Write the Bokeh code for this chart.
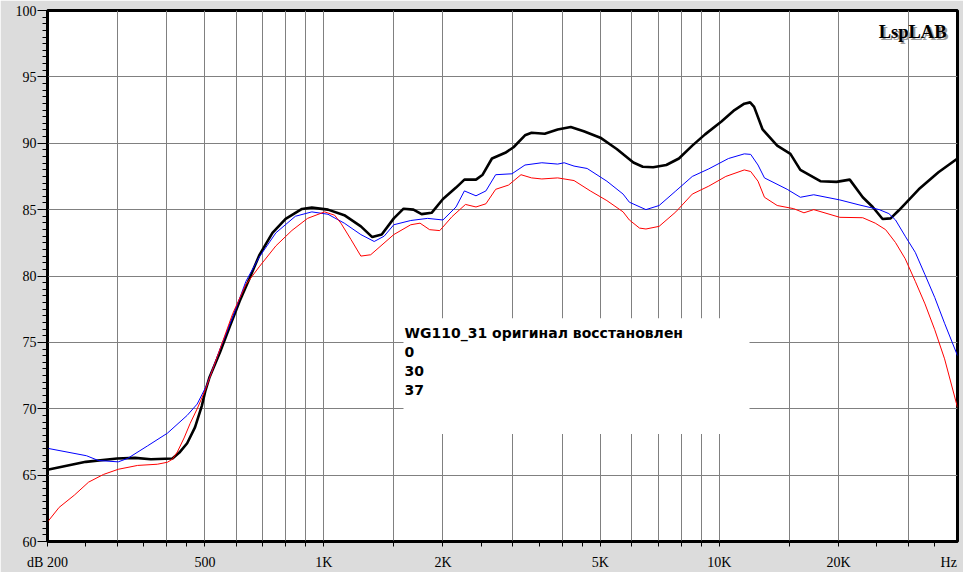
import math
from bokeh.plotting import figure
from bokeh.models import FixedTicker, Label, BoxAnnotation, Range1d
from bokeh.embed import file_html
from bokeh.resources import INLINE

# ---------------- data ----------------
freq_0 = [200, 250, 300, 333, 365, 414, 431, 451, 472, 491, 501, 514, 546, 578, 612, 648, 686, 741, 800, 880,
          932, 1024, 1126, 1240, 1325, 1400, 1502, 1590, 1684, 1766, 1872, 2000, 2158, 2266, 2424, 2520, 2660,
          2874, 3016, 3224, 3350, 3616, 3900, 4208, 4540, 5000, 5500, 6060, 6400, 6800, 7340, 7900, 8540, 9200,
          10120, 10920, 11560, 11960, 12240, 12860, 14000, 15120, 16020, 18000, 19780, 21360, 23040, 24420,
          25860, 27100, 28440, 31920, 35800, 40000]
db_0 = [65.4, 66.0, 66.25, 66.3, 66.2, 66.25, 66.7, 67.4, 68.6, 70.2, 71.3, 72.4, 74.25, 76.2, 78.1, 79.8, 81.55,
        83.25, 84.3, 85.05, 85.15, 85.0, 84.58, 83.74, 82.93, 83.12, 84.34, 85.07, 85.0, 84.66, 84.76, 85.8,
        86.66, 87.26, 87.26, 87.63, 88.85, 89.28, 89.7, 90.6, 90.79, 90.72, 91.04, 91.23, 90.91, 90.42, 89.57,
        88.55, 88.23, 88.19, 88.36, 88.85, 89.82, 90.67, 91.64, 92.5, 92.98, 93.08, 92.74, 91.04, 89.82, 89.2,
        87.99, 87.14, 87.09, 87.26, 85.93, 85.2, 84.29, 84.34, 84.95, 86.53, 87.82, 88.85]

freq_30 = [200, 251, 269, 302, 319, 358, 402, 451, 478, 506, 546, 588, 635, 686, 756, 847, 932, 1024, 1126, 1240,
           1340, 1420, 1502, 1658, 1828, 2000, 2158, 2266, 2424, 2568, 2718, 2988, 3224, 3556, 3900, 4050, 4290,
           4630, 5194, 5708, 5920, 6520, 7040, 7760, 8540, 9400, 10540, 11560, 12000, 12520, 13000, 14840,
           16020, 17320, 20160, 22540, 25360, 26820, 27880, 29500, 31280, 33100, 35040, 37100, 40000]
db_30 = [67.02, 66.46, 66.1, 66.0, 66.26, 67.2, 68.16, 69.5, 70.35, 71.8, 74.5, 76.9, 79.6, 81.42, 83.25, 84.5,
         84.83, 84.65, 83.98, 83.12, 82.6, 83.0, 83.86, 84.18, 84.34, 84.22, 85.2, 86.41, 86.04, 86.41, 87.63,
         87.7, 88.36, 88.53, 88.43, 88.53, 88.28, 88.1, 87.14, 86.17, 85.56, 85.0, 85.31, 86.41, 87.5, 88.07,
         88.85, 89.2, 89.16, 88.36, 87.39, 86.53, 85.93, 86.12, 85.73, 85.36, 85.0, 84.7, 84.22, 83.0, 81.78,
         80.1, 78.38, 76.44, 74.0]

freq_37 = [200, 214, 234, 254, 277, 302, 338, 379, 402, 414, 426, 443, 459, 478, 501, 546, 588, 635, 686, 756,
           830, 909, 1004, 1064, 1104, 1170, 1240, 1313, 1502, 1658, 1750, 1850, 1963, 2108, 2280, 2424, 2568,
           2718, 2930, 3150, 3350, 3556, 3900, 4290, 4716, 5194, 5708, 5920, 6280, 6520, 7040, 7760, 8540,
           9400, 10380, 11560, 12000, 12520, 13000, 14000, 15420, 16360, 17320, 20160, 23040, 24780, 26320,
           27880, 29500, 31280, 33100, 35040, 37100, 40000]
db_37 = [61.47, 62.57, 63.5, 64.47, 65.05, 65.44, 65.73, 65.82, 65.97, 66.2, 66.75, 67.8, 68.9, 69.99, 71.4,
         74.5, 77.17, 79.36, 80.69, 82.27, 83.43, 84.34, 84.83, 84.58, 83.98, 82.76, 81.5, 81.6, 83.12, 83.86,
         83.98, 83.49, 83.42, 84.47, 85.39, 85.2, 85.44, 86.53, 86.85, 87.63, 87.39, 87.31, 87.39, 87.19, 86.41,
         85.68, 84.83, 84.22, 83.61, 83.54, 83.74, 84.83, 86.17, 86.77, 87.5, 87.99, 87.87, 87.14, 85.93, 85.31,
         85.07, 84.76, 85.0, 84.42, 84.39, 83.98, 83.49, 82.52, 81.3, 79.6, 77.9, 75.95, 73.76, 70.1]

# x-axis: labelled positions and their texts, tick-mark positions, grid positions
x_label_pos = [200, 500, 1000, 2000, 5000, 10000, 20000, 38000]
x_label_txt = ["dB 200", "500", "1K", "2K", "5K", "10K", "20K", "Hz"]
x_tick_marks = [200, 250, 300, 350, 400, 450, 500, 600, 700, 800, 900, 1000, 1500, 2000, 2500, 3000, 3500,
                4000, 4500, 5000, 6000, 7000, 8000, 9000, 10000, 15000, 20000, 25000, 30000, 35000]
x_grid_ticks = [300, 400, 500, 600, 700, 800, 900, 1000, 1500, 2000, 3000, 4000, 5000, 6000, 7000,
                8000, 9000, 10000, 15000, 20000, 30000]
y_ticks = [60, 65, 70, 75, 80, 85, 90, 95, 100]
y_minor = [60 + 0.5 * i for i in range(81)]

legend_title = "WG110_31 оригинал восстановлен"
legend_items = ["0", "30", "37"]

# ---------------- layout (figure pixels) ----------------
W, H = 963, 572
FL, FR, FT, FB = 47, 957, 10, 543   # frame edges
X0, X1, Y0, Y1 = 200, 40000, 60, 100


def fx(px):
    return X0 * 10 ** ((px - FL) / (FR - FL) * math.log10(X1 / X0))


def fy(py):
    return Y1 - (py - FT) / (FB - FT) * (Y1 - Y0)


p = figure(width=W, height=H, x_axis_type="log", x_range=Range1d(X0, X1), y_range=Range1d(Y0, Y1),
           output_backend="svg", toolbar_location=None,
           min_border_left=FL, min_border_right=W - FR, min_border_top=FT, min_border_bottom=H - FB)

p.background_fill_color = "white"
p.border_fill_color = "#DCDCDC"
p.outline_line_color = "black"
p.outline_line_width = 3

# grids
p.xgrid.ticker = FixedTicker(ticks=x_grid_ticks)
p.ygrid.ticker = FixedTicker(ticks=y_ticks)
for g in (p.xgrid, p.ygrid):
    g.grid_line_color = "#808080"
    g.grid_line_width = 1

NARROW = "Liberation Sans Narrow"

# x axis: labels on (unmarked) major ticks, tick marks as minor ticks
xa = p.xaxis[0]
xa.ticker = FixedTicker(ticks=x_label_pos, minor_ticks=x_tick_marks)
xa.major_label_overrides = {pos: txt for pos, txt in zip(x_label_pos, x_label_txt)}
xa.major_tick_out = 0
xa.major_tick_in = 0
xa.major_tick_line_color = None
xa.minor_tick_out = 5
xa.minor_tick_in = 0
xa.minor_tick_line_color = "black"
xa.axis_line_color = "black"
xa.axis_line_width = 2
xa.major_label_standoff = 8
xa.major_label_text_font = NARROW
xa.major_label_text_font_size = "14px"
xa.major_label_text_color = "black"

ya = p.yaxis[0]
ya.ticker = FixedTicker(ticks=y_ticks, minor_ticks=y_minor)
ya.major_tick_out = 10
ya.major_tick_in = 0
ya.minor_tick_out = 5
ya.minor_tick_in = 0
ya.axis_line_color = "black"
ya.axis_line_width = 2
ya.major_tick_line_color = "black"
ya.minor_tick_line_color = "black"
ya.major_label_standoff = 1
ya.major_label_text_font = NARROW
ya.major_label_text_font_size = "14px"
ya.major_label_text_color = "black"

# legend background (white box over the grid)
p.add_layout(BoxAnnotation(left=fx(403), right=fx(749), top=fy(319), bottom=fy(435),
                           fill_color="white", fill_alpha=1.0, line_alpha=0, level="underlay"))

# curves
p.line(freq_0, db_0, line_color="black", line_width=2.6)
p.line(freq_30, db_30, line_color="#0000FF", line_width=1)
p.line(freq_37, db_37, line_color="#FF0000", line_width=1)

# legend text
LEG_FONT = "DejaVu Sans"
p.add_layout(Label(x=fx(404), y=fy(334), text=legend_title, text_font=LEG_FONT,
                   text_font_style="bold", text_font_size="14px", text_color="black",
                   text_baseline="alphabetic", text_align="left"))
for i, t in enumerate(legend_items):
    p.add_layout(Label(x=fx(404), y=fy(353 + 18.8 * i), text=t, text_font=LEG_FONT,
                       text_font_style="bold", text_font_size="14px", text_color="black",
                       text_baseline="alphabetic", text_align="left"))

# logo with shadow
p.add_layout(Label(x=fx(948), y=fy(34), text="LspLAB", text_font="Liberation Serif", text_font_style="bold",
                   text_font_size="18.5px", text_color="#9A9A9A", text_align="right", text_baseline="alphabetic"))
p.add_layout(Label(x=fx(946), y=fy(32), text="LspLAB", text_font="Liberation Serif", text_font_style="bold",
                   text_font_size="18.5px", text_color="black", text_align="right", text_baseline="alphabetic"))

open("out.html", "w").write(file_html(p, INLINE))
